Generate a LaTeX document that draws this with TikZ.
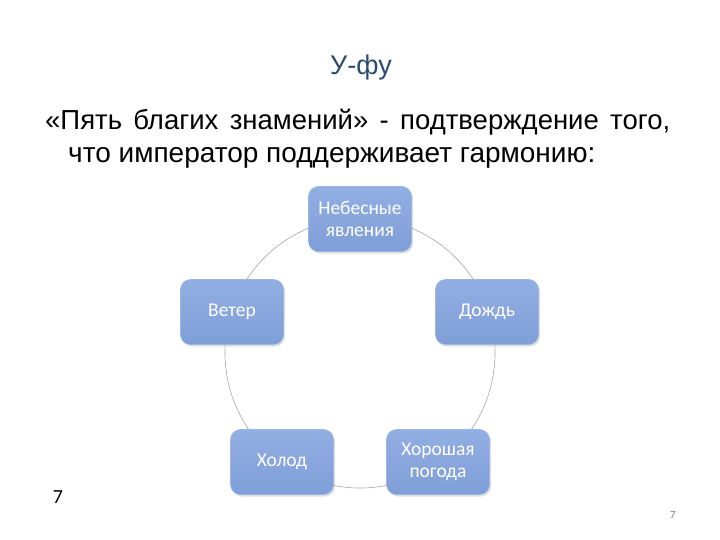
\documentclass[tikz,border=0pt]{standalone}
\usepackage{fontspec}
\setmainfont{Liberation Sans}
\newfontfamily\calib{Carlito}
\usetikzlibrary{shadows}
\definecolor{titleblue}{HTML}{2B4C6F}
\definecolor{boxtop}{HTML}{92AFE3}
\definecolor{boxbot}{HTML}{7F9ED7}
\definecolor{boxedge}{HTML}{9AB5E6}
\definecolor{ringgray}{HTML}{A6A6A6}
\tikzset{
  omen/.style={rectangle, rounded corners=10pt, minimum width=103pt, minimum height=65pt,
    top color=boxtop, bottom color=boxbot, draw=boxedge, line width=0.6pt,
    drop shadow={shadow xshift=1.5pt, shadow yshift=-2pt, opacity=0.25},
    text=white, font=\calib\fontsize{19.5}{22}\selectfont, align=center, inner sep=2pt},
  ring/.style={draw=ringgray, line width=0.6pt}
}
\begin{document}
\begin{tikzpicture}[x=1pt,y=-1pt]
\useasboundingbox (0,0) rectangle (720,540);
\fill[white] (0,0) rectangle (720,540);
\node[anchor=base, inner sep=0pt, text=titleblue, font=\fontsize{27}{30}\selectfont] (title) at (361,75) {У-фу};
\node[anchor=base west, inner sep=0pt, font=\fontsize{27.5}{30}\selectfont] (line1) at (45,130)
  {\hbox to 625pt{«Пять\hfil\ благих\hfil\ знамений»\hfil\ -\hfil\ подтверждение\hfil\ того,}};
\node[anchor=base west, inner sep=0pt, font=\fontsize{28}{30}\selectfont] (line2) at (68,163)
  {что император поддерживает гармонию:};
\draw[ring] (360,353) circle (135pt);
\node[omen] (sky) at (360,219) {Небесные\\явления};
\node[omen] (rain) at (487,312) {Дождь};
\node[omen] (good) at (438,462) {Хорошая\\погода};
\node[omen] (cold) at (282,462) {Холод};
\node[omen] (wind) at (232,312) {Ветер};
\node[font=\calib\fontsize{20}{24}\selectfont] (num) at (58,497) {7};
\node[text=gray, font=\calib\fontsize{11}{13}\selectfont] (pg) at (673,515) {7};
\end{tikzpicture}
\end{document}
